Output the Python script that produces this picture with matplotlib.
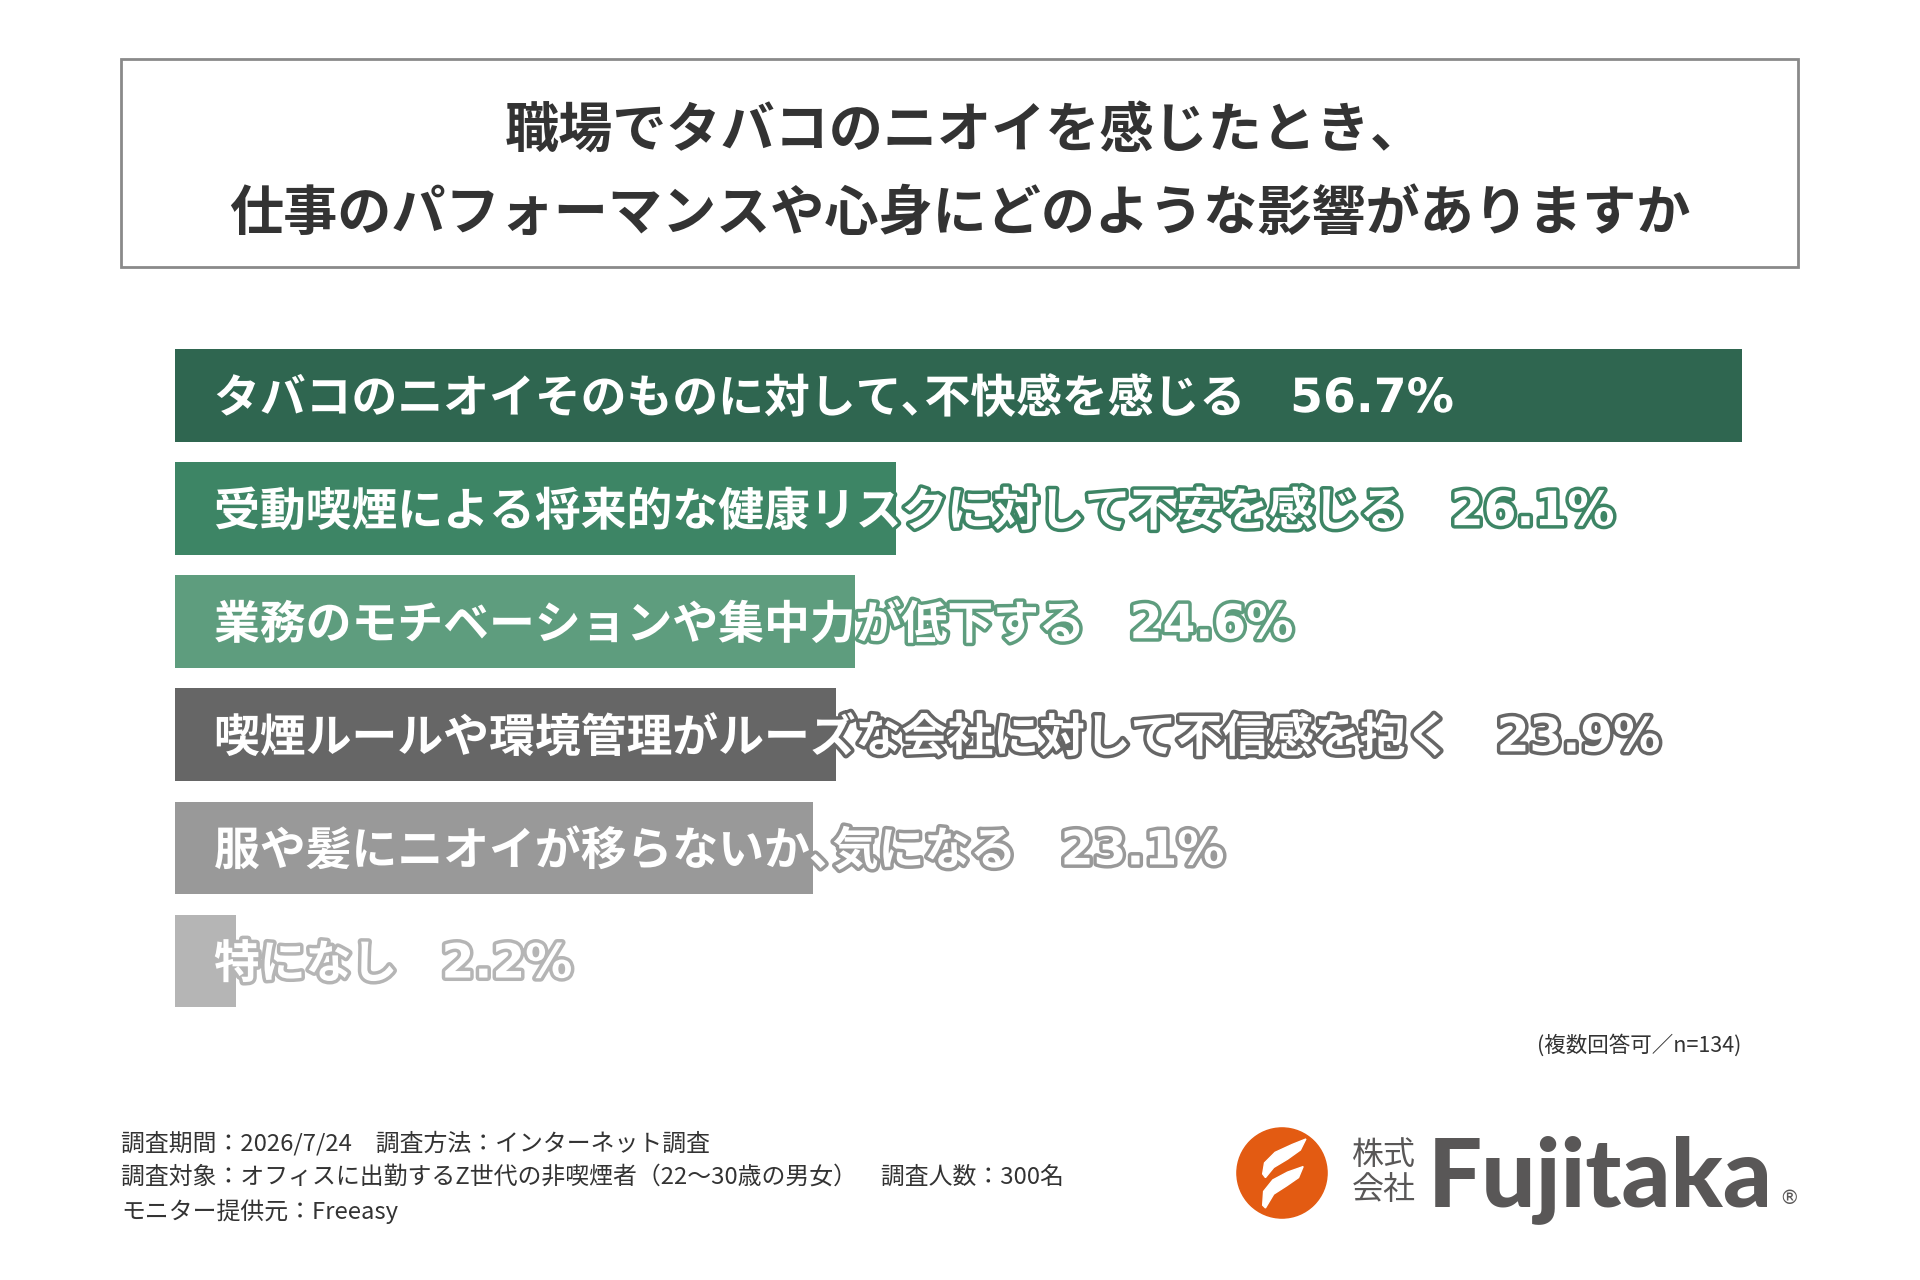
import matplotlib
matplotlib.use("Agg")
import matplotlib.pyplot as plt
import matplotlib.patheffects as pe
from matplotlib.patches import Rectangle, Circle, Polygon

plt.rcParams['font.family'] = ['Noto Sans CJK JP', 'DejaVu Sans']

# data
labels = ['タバコのニオイそのものに対して､不快感を感じる',
          '受動喫煙による将来的な健康リスクに対して不安を感じる',
          '業務のモチベーションや集中力が低下する',
          '喫煙ルールや環境管理がルーズな会社に対して不信感を抱く',
          '服や髪にニオイが移らないか､気になる',
          '特になし']
values = [56.7, 26.1, 24.6, 23.9, 23.1, 2.2]
colors = ['#2f6650', '#3d8565', '#5e9d7e', '#666666', '#999999', '#b5b5b5']

title_lines = ['職場でタバコのニオイを感じたとき、',
               '仕事のパフォーマンスや心身にどのような影響がありますか']
note = '(複数回答可／n=134)'
footer = ['調査期間：2026/7/24　調査方法：インターネット調査',
          '調査対象：オフィスに出勤するZ世代の非喫煙者（22～30歳の男女）　調査人数：300名',
          'モニター提供元：Freeasy']

W, H = 1920, 1280
fig = plt.figure(figsize=(W / 100, H / 100), dpi=100)
fig.patch.set_facecolor('white')

def fx(px):
    return px / W

def fy(py):
    return 1 - py / H

# title box
fig.patches.append(Rectangle((fx(121), fy(267)), fx(1798) - fx(121), fy(59) - fy(267),
                             transform=fig.transFigure, fill=False, edgecolor='#8a8a8a', lw=2))
fig.text(fx(965), fy(131), title_lines[0], ha='center', va='center', fontsize=39,
         fontweight='bold', color='#333333')
fig.text(fx(960), fy(214), title_lines[1], ha='center', va='center', fontsize=39,
         fontweight='bold', color='#333333')

# bars
top, step = 339, 113.1
ax = fig.add_axes([fx(175), fy(top + step * 6), fx(1742) - fx(175), step * 6 / H])
y = list(range(len(values)))
ax.barh(y, values, height=0.82, color=colors)
ax.set_xlim(0, max(values))
ax.set_ylim(5.5, -0.5)
ax.axis('off')

renderer = fig.canvas.get_renderer()
for i, (lab, v, c) in enumerate(zip(labels, values, colors)):
    stroke = [pe.withStroke(linewidth=5, foreground=c)]
    t = ax.annotate(lab, xy=(0, i), xytext=(39, -4), textcoords='offset pixels',
                    ha='left', va='center', fontsize=33, fontweight='bold', color='white',
                    path_effects=stroke)
    x0 = ax.transData.transform((0, i))[0]
    x1 = t.get_window_extent(renderer).x1
    ax.annotate(f'{v:.1f}%', xy=(0, i), xytext=(x1 - x0 + 44, -4), textcoords='offset pixels',
                ha='left', va='center', fontsize=34, fontweight='bold', color='white',
                family=['DejaVu Sans', 'Noto Sans CJK JP'], path_effects=stroke)

fig.text(fx(1741), fy(1045), note, ha='right', va='center', fontsize=15.5, color='#333333')

for k, line in enumerate(footer):
    fig.text(fx(121), fy(1143 + 34 * k), line, ha='left', va='center', fontsize=17.2,
             color='#333333')

# logo
lax = fig.add_axes([fx(1236), fy(1219), fx(92), 92 / H])
lax.set_xlim(-1, 1)
lax.set_ylim(-1, 1)
lax.axis('off')
lax.add_patch(Circle((0, 0), 0.98, color='#e35b12'))
lax.add_patch(Polygon([(-0.42, -0.02), (-0.38, 0.22), (-0.15, 0.45), (0.22, 0.62), (0.52, 0.74),
                       (0.40, 0.50), (0.12, 0.30), (-0.18, 0.12), (-0.36, -0.10)], color='white'))
lax.add_patch(Polygon([(-0.42, -0.70), (-0.40, -0.40), (-0.20, -0.15), (0.12, 0.02), (0.46, 0.14),
                       (0.36, -0.10), (0.10, -0.28), (-0.18, -0.46), (-0.36, -0.76)], color='white'))

fig.text(fx(1352), fy(1155), '株式', ha='left', va='center', fontsize=23, color='#595757')
fig.text(fx(1352), fy(1190), '会社', ha='left', va='center', fontsize=23, color='#595757')
fig.text(fx(1428), fy(1206), 'Fujitaka', ha='left', va='baseline', fontsize=69,
         fontweight='black', family='Lato', color='#595757')
fig.text(fx(1789), fy(1198), '®', ha='center', va='center', fontsize=14, family='DejaVu Sans',
         color='#595757')

fig.savefig('out.png', dpi=100, facecolor='white')
